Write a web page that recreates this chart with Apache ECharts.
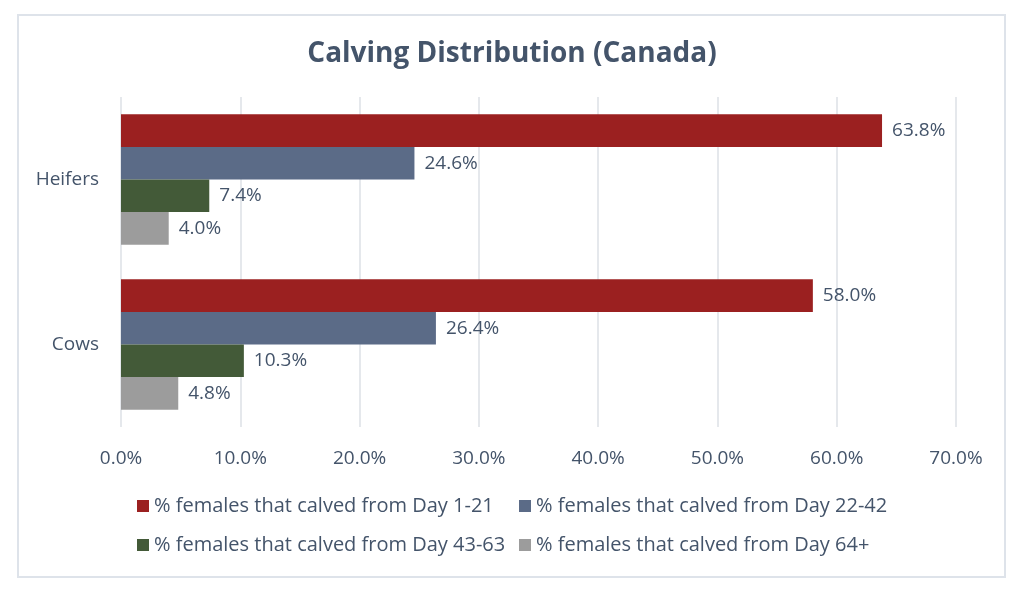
<!DOCTYPE html>
<html>
<head>
<meta charset="utf-8">
<script src="https://cdn.jsdelivr.net/npm/echarts@6/dist/echarts.min.js"></script>
<style>
  html, body { margin: 0; padding: 0; background: #fff; }
  #frame { position: absolute; left: 17px; top: 14px; width: 985px; height: 560px; border: 2px solid #DEE3EA; }
  #main { position: absolute; left: 0; top: 0; width: 1024px; height: 592px; }
</style>
</head>
<body>
<div id="frame"></div>
<div id="main"></div>
<script type="text/javascript">
    var categories = ['Heifers', 'Cows'];
    var seriesNames = [
        '% females that calved from Day 1-21',
        '% females that calved from Day 22-42',
        '% females that calved from Day 43-63',
        '% females that calved from Day 64+'
    ];
    var day1to21 = [63.8, 58.0];
    var day22to42 = [24.6, 26.4];
    var day43to63 = [7.4, 10.3];
    var day64plus = [4.0, 4.8];
    var colors = ['#9B2020', '#5B6B87', '#435A38', '#9C9C9C'];

    var txt = '#44546A';
    var font = '"Open Sans", "Noto Sans", sans-serif';

    var makeSeries = function (i, values) {
        return {
            name: seriesNames[i],
            type: 'bar',
            data: values,
            barGap: '0%',
            barCategoryGap: '21%',
            itemStyle: { color: colors[i] },
            label: {
                show: true,
                position: 'right',
                distance: 10,
                color: txt,
                fontFamily: font,
                fontSize: 19,
                formatter: function (p) { return p.value.toFixed(1) + '%'; }
            }
        };
    };

    var legendBase = {
        orient: 'vertical',
        top: 496,
        padding: 0,
        itemWidth: 12,
        itemHeight: 12,
        itemGap: 19,
        icon: 'rect',
        textStyle: { color: txt, fontFamily: font, fontSize: 20 }
    };

    var myChart = echarts.init(document.getElementById('main'));
    myChart.setOption({
        animation: false,
        title: {
            text: 'Calving Distribution (Canada)',
            left: 'center',
            top: 35,
            textStyle: { color: txt, fontFamily: font, fontSize: 28, fontWeight: 'bold' }
        },
        legend: [
            Object.assign({}, legendBase, { left: 137, data: [seriesNames[0], seriesNames[2]] }),
            Object.assign({}, legendBase, { left: 519, data: [seriesNames[1], seriesNames[3]] })
        ],
        grid: { left: 121, right: 68, top: 97, bottom: 165, containLabel: false },
        xAxis: {
            type: 'value',
            min: 0,
            max: 70,
            interval: 10,
            axisLine: { show: false },
            axisTick: { show: false },
            splitLine: { lineStyle: { color: '#DDE1E6', width: 1.5 } },
            axisLabel: {
                color: txt,
                fontFamily: font,
                fontSize: 19,
                margin: 22,
                formatter: function (v) { return v.toFixed(1) + '%'; }
            }
        },
        yAxis: {
            type: 'category',
            data: categories,
            inverse: true,
            axisLine: { show: false },
            axisTick: { show: false },
            axisLabel: { color: txt, fontFamily: font, fontSize: 19, margin: 22 }
        },
        series: [
            makeSeries(0, day1to21),
            makeSeries(1, day22to42),
            makeSeries(2, day43to63),
            makeSeries(3, day64plus)
        ]
    });
</script>
</body>
</html>
